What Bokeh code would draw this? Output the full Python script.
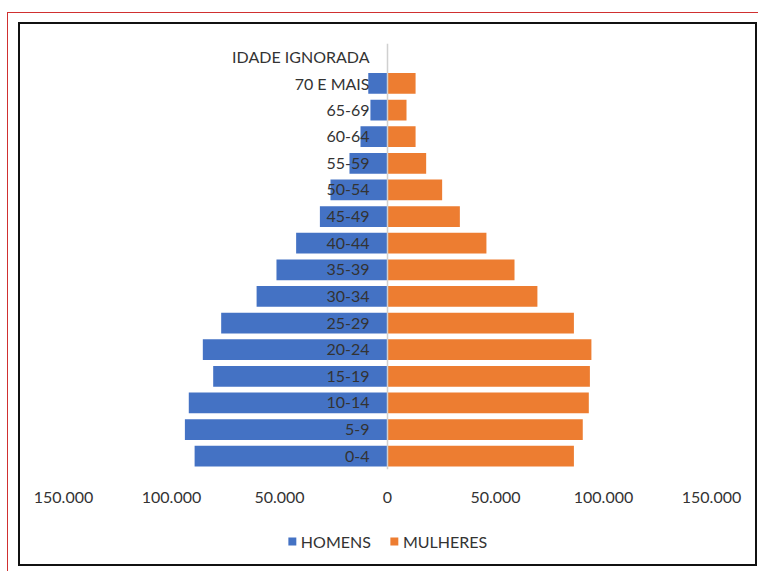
from bokeh.plotting import figure
from bokeh.layouts import column
from bokeh.models import (ColumnDataSource, FactorRange, Range1d, FixedTicker,
                          CustomJSTickFormatter, Span, Legend, LegendItem)
from bokeh.core.properties import value
from bokeh.embed import file_html
from bokeh.resources import INLINE

categories = ["0-4", "5-9", "10-14", "15-19", "20-24", "25-29", "30-34", "35-39",
              "40-44", "45-49", "50-54", "55-59", "60-64", "65-69", "70 E MAIS",
              "IDADE IGNORADA"]
homens = [89300, 93800, 92000, 80700, 85500, 77000, 60600, 51400,
          42300, 31300, 26400, 17600, 12500, 7900, 8900, 0]
mulheres = [86300, 90400, 93200, 93700, 94400, 86300, 69400, 58800,
            45800, 33500, 25300, 17900, 13000, 8800, 13000, 0]
x_ticks = [-150000, -100000, -50000, 0, 50000, 100000, 150000]
series_names = ["HOMENS", "MULHERES"]

BLUE = "#4472C4"
ORANGE = "#ED7D31"
FONT = "Lato"

src = ColumnDataSource(dict(
    cat=categories,
    h_left=[-v for v in homens],
    m_right=mulheres,
    zero=[0] * len(categories),
))

# ---- main chart ----
p = figure(width=758, height=520, output_backend="svg", toolbar_location=None,
           y_range=FactorRange(*categories, range_padding=0),
           x_range=Range1d(-150000, 150000),
           min_border_left=63, min_border_right=47,
           min_border_top=43, min_border_bottom=51)
p.outline_line_color = None
p.border_fill_color = None
p.xgrid.visible = False
p.ygrid.visible = False
p.yaxis.visible = False

p.hbar(y="cat", left="h_left", right="zero", height=0.78, source=src,
       fill_color=BLUE, line_color=None)
p.hbar(y="cat", left="zero", right="m_right", height=0.78, source=src,
       fill_color=ORANGE, line_color=None)

p.text(x="zero", y="cat", text="cat", source=src, x_offset=-18,
       text_align="right", text_baseline="middle",
       text_font=value(FONT), text_font_size="16px", text_color="#333333")

p.add_layout(Span(location=0, dimension="height", line_color="#d0d0d0", line_width=1.5))

xa = p.xaxis[0]
xa.ticker = FixedTicker(ticks=x_ticks)
xa.formatter = CustomJSTickFormatter(code="""
var s = Math.abs(tick).toString();
return s.replace(/\\B(?=(\\d{3})+(?!\\d))/g, '.');
""")
xa.axis_line_color = None
xa.major_tick_line_color = None
xa.minor_tick_line_color = None
xa.major_label_standoff = 16
xa.major_label_text_font = FONT
xa.major_label_text_font_size = "16px"
xa.major_label_text_color = "#333333"

# ---- legend strip below the chart (series renderers with zero height, out of view) ----
lg = figure(width=758, height=51, output_backend="svg", toolbar_location=None,
            x_range=Range1d(200000, 300000),
            y_range=FactorRange(*categories, range_padding=0),
            x_axis_location=None, y_axis_location=None,
            min_border_left=28, min_border_right=0,
            min_border_top=0, min_border_bottom=0)
lg.outline_line_color = None
lg.border_fill_color = None
lg.background_fill_color = None
lg.grid.visible = False
lr_h = lg.hbar(y="cat", left="h_left", right="zero", height=0, source=src,
               fill_color=BLUE, line_color=None)
lr_m = lg.hbar(y="cat", left="zero", right="m_right", height=0, source=src,
               fill_color=ORANGE, line_color=None)
legend = Legend(items=[LegendItem(label=series_names[0], renderers=[lr_h]),
                       LegendItem(label=series_names[1], renderers=[lr_m])],
                location="top_center", orientation="horizontal",
                glyph_width=10, glyph_height=10, label_standoff=4, spacing=18,
                padding=0, margin=11, border_line_color=None, label_height=20,
                background_fill_alpha=0,
                label_text_font=FONT, label_text_font_size="16px",
                label_text_color="#333333")
lg.add_layout(legend, "center")

layout = column(p, lg, spacing=0, styles={
    "background-color": "white",
    "background-image": ", ".join(["linear-gradient(#d03030,#d03030)"] * 2 +
                                  ["linear-gradient(#111111,#111111)"] * 4),
    "background-position": "7px 12px, 7px 12px, 18px 22px, 18px 564px, 18px 22px, 755px 22px",
    "background-size": "751px 1px, 1px 559px, 739px 2px, 739px 2px, 2px 544px, 2px 544px",
    "background-repeat": "no-repeat",
})

open("out.html", "w").write(file_html(layout, INLINE))
